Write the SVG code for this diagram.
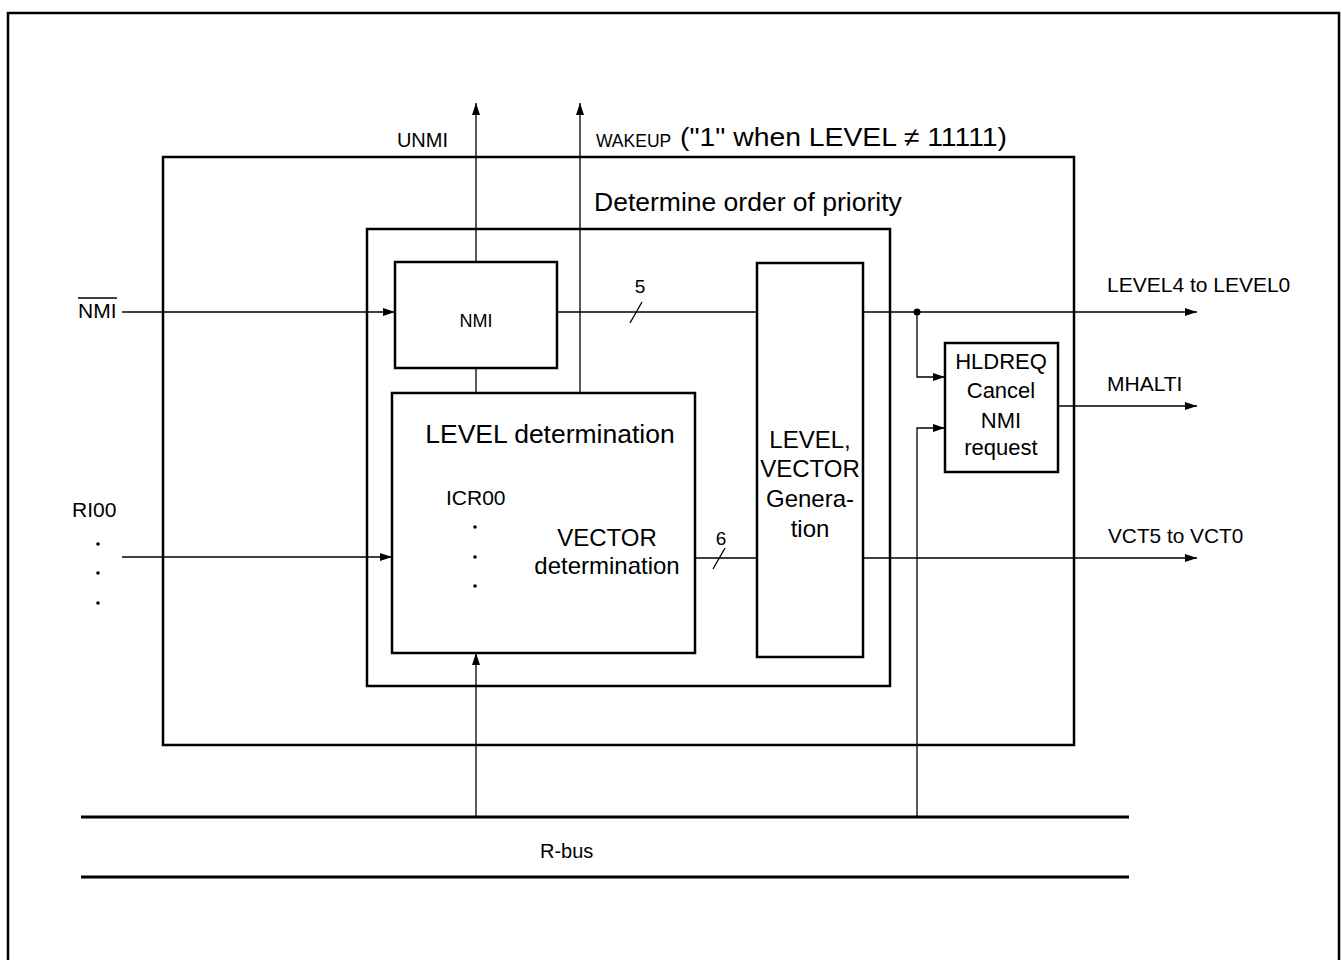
<svg xmlns="http://www.w3.org/2000/svg" width="1342" height="960" viewBox="0 0 1342 960">
<defs>
<marker id="arr" viewBox="0 0 12 8" refX="12" refY="4" markerWidth="12" markerHeight="8" markerUnits="userSpaceOnUse" orient="auto">
<path d="M0,0 L12,4 L0,8 Z" fill="#000"/>
</marker>
<style>
.frame{fill:none;stroke:#000;stroke-width:2.5}
.box{fill:#fff;stroke:#000;stroke-width:2.5}
.ln{fill:none;stroke:#000;stroke-width:1.3}
.arw{fill:none;stroke:#000;stroke-width:1.3;marker-end:url(#arr)}
.bus{stroke:#000;stroke-width:3}
text{font-family:"Liberation Sans",Arial,Helvetica,sans-serif;fill:#000}
.c{text-anchor:middle}
</style>
</defs>
<rect width="1342" height="960" fill="#fff"/>
<rect class="frame" x="8" y="13" width="1331" height="960"/>

<g id="block">
<rect class="frame" x="163" y="157" width="911" height="588"/>
<text x="594" y="211" font-size="26.5">Determine order of priority</text>
</g>
<g id="priority">
<rect class="frame" x="367" y="229" width="523" height="457"/>
</g>

<g id="connectors">
<path class="arw" d="M122,312 H395"/>
<path class="arw" d="M476,393 V103"/>
<path class="arw" d="M580,393 V103"/>
<path class="ln" d="M557,312 H757"/>
<path class="ln" d="M630,323 L642,302"/>
<path class="arw" d="M863,312 H1197"/>
<circle cx="917" cy="312" r="3.5" fill="#000"/>
<path class="arw" d="M917,312 V377 H945"/>
<path class="arw" d="M917,817 V428 H945"/>
<path class="arw" d="M1058,406 H1197"/>
<path class="arw" d="M122,557 H392"/>
<path class="ln" d="M695,558 H757"/>
<path class="ln" d="M713,569 L725,548"/>
<path class="arw" d="M863,558 H1197"/>
<path class="arw" d="M476,817 V653"/>
</g>

<g id="nmi">
<rect class="box" x="395" y="262" width="162" height="106"/>
<text class="c" x="476" y="327" font-size="18">NMI</text>
</g>
<g id="level-det">
<rect class="box" x="392" y="393" width="303" height="260"/>
<text class="c" x="550" y="443" font-size="26.5">LEVEL determination</text>
<text x="446" y="505" font-size="21">ICR00</text>
<circle cx="475" cy="527" r="1.8" fill="#000"/>
<circle cx="475" cy="557" r="1.8" fill="#000"/>
<circle cx="475" cy="586" r="1.8" fill="#000"/>
<text class="c" x="607" y="546" font-size="24">VECTOR</text>
<text class="c" x="607" y="574" font-size="24">determination</text>
</g>
<g id="gen">
<rect class="box" x="757" y="263" width="106" height="394"/>
<text class="c" x="810" y="448" font-size="24">LEVEL,</text>
<text class="c" x="810" y="477" font-size="24">VECTOR</text>
<text class="c" x="810" y="507" font-size="24">Genera-</text>
<text class="c" x="810" y="537" font-size="24">tion</text>
</g>
<g id="hldreq">
<rect class="box" x="945" y="343" width="113" height="129"/>
<text class="c" x="1001" y="369" font-size="22">HLDREQ</text>
<text class="c" x="1001" y="398" font-size="22">Cancel</text>
<text class="c" x="1001" y="428" font-size="22">NMI</text>
<text class="c" x="1001" y="455" font-size="22">request</text>
</g>

<g id="labels">
<text x="78" y="318" font-size="21">NMI</text>
<line x1="78" y1="298" x2="117" y2="298" stroke="#000" stroke-width="1.3"/>
<text x="72" y="517" font-size="21">RI00</text>
<circle cx="98" cy="544" r="1.8" fill="#000"/>
<circle cx="98" cy="573" r="1.8" fill="#000"/>
<circle cx="98" cy="603" r="1.8" fill="#000"/>
<text x="448" y="147" font-size="20" text-anchor="end">UNMI</text>
<text x="596" y="147" font-size="17.5">WAKEUP</text>
<text x="680" y="146" font-size="26" textLength="327" lengthAdjust="spacingAndGlyphs">("1" when LEVEL ≠ 11111)</text>
<text class="c" x="640" y="293" font-size="19">5</text>
<text class="c" x="721" y="545" font-size="19">6</text>
<text x="1107" y="292" font-size="21">LEVEL4 to LEVEL0</text>
<text x="1107" y="391" font-size="21">MHALTI</text>
<text x="1108" y="543" font-size="20.8">VCT5 to VCT0</text>
</g>

<g id="rbus">
<line class="bus" x1="81" y1="817" x2="1129" y2="817"/>
<line class="bus" x1="81" y1="877" x2="1129" y2="877"/>
<text x="540" y="858" font-size="20">R-bus</text>
</g>
</svg>
